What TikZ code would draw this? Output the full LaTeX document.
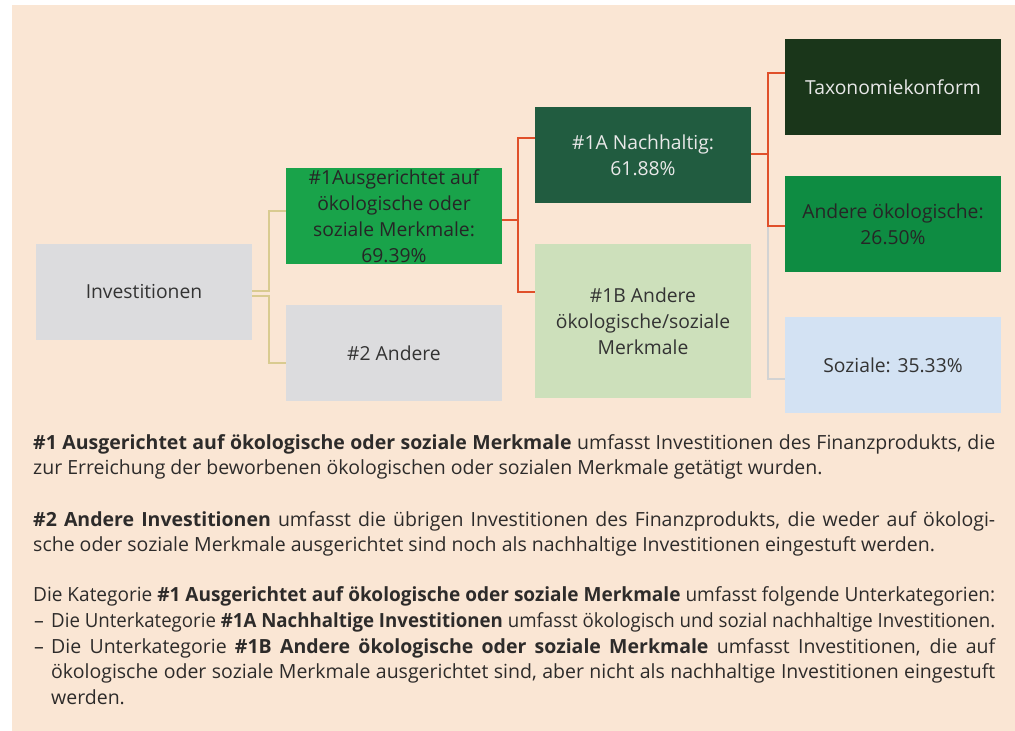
\documentclass[tikz,border=0pt]{standalone}
\usepackage{fontspec}
\usepackage{graphicx}
\setmainfont{Open Sans}
\newfontfamily\bodyfam{Open Sans}
\definecolor{bgc}{HTML}{FAE6D4}
\definecolor{grayc}{HTML}{DCDCDE}
\definecolor{greenA}{HTML}{19A34A}
\definecolor{darkA}{HTML}{215C40}
\definecolor{lightB}{HTML}{CDE0BB}
\definecolor{taxoc}{HTML}{1A361A}
\definecolor{anderec}{HTML}{0E8C42}
\definecolor{sozc}{HTML}{D3E2F3}
\definecolor{tanc}{HTML}{D9CB90}
\definecolor{redc}{HTML}{E0502A}
\definecolor{linegray}{HTML}{D3D3D3}
\definecolor{txtc}{HTML}{2D2B2A}
\definecolor{boxtxt}{HTML}{333333}
\definecolor{lighttxt}{HTML}{E8E8E8}
\newcommand\boxtext{\fontsize{19.3}{26}\selectfont}
\newcommand\bodytext{\bodyfam\fontsize{19.5}{25}\selectfont}
\newsavebox\linebox
\newcommand\fitline[2]{\sbox\linebox{#2}\ifdim\wd\linebox>#1\relax\resizebox{#1}{\ht\linebox}{\usebox\linebox}\else\makebox[#1][s]{#2}\fi}
\tikzset{
  box/.style={rectangle, minimum width=216pt, minimum height=96pt, inner sep=0pt, align=center, font=\boxtext, text=boxtxt},
  tanline/.style={draw=tanc, line width=1.5pt},
  redline/.style={draw=redc, line width=1.5pt},
  grayline/.style={draw=linegray, line width=1.5pt},
  bodyline/.style={anchor=base west, inner sep=0pt, font=\bodytext, text=txtc}
}
\begin{document}
\begin{tikzpicture}[x=1pt,y=-1pt]
\path[use as bounding box] (0,0) rectangle (1015,731);
\fill[bgc] (12,5) rectangle (1015,731);

\node[box, fill=grayc] (inv) at (144,292) {Investitionen};
\node[box, fill=greenA, text=black!85] (one) at (394,216) {\#1Ausgerichtet auf\\ökologische oder\\soziale Merkmale:\\69.39\%};
\node[box, fill=grayc] (two) at (394,353) {\#2 Andere};
\node[box, fill=darkA, text=lighttxt] (oneA) at (643,155) {\#1A Nachhaltig:\\61.88\%};
\node[box, fill=lightB, minimum height=154pt] (oneB) at (643,321) {\#1B Andere\\ökologische/soziale\\Merkmale};
\node[box, fill=taxoc, text=lighttxt] (taxo) at (893,87) {Taxonomiekonform};
\node[box, fill=anderec, text=black!85] (andere) at (893,224) {Andere ökologische:\\26.50\%};
\node[box, fill=sozc] (soz) at (893,365) {Soziale: 35.33\%};

\draw[tanline] ([yshift=1pt]inv.east) -- ++(17,0) |- ([yshift=5pt]one.west);
\draw[tanline] ([yshift=-4pt]inv.east) -- ++(17,0) |- ([yshift=-10pt]two.west);
\draw[redline] ([yshift=-4pt]one.east) -- ++(16,0) |- ([yshift=17pt]oneA.west);
\draw[redline] ([yshift=-4pt]one.east) -- ++(16,0) |- ([yshift=29pt]oneB.west);
\draw[grayline] ([yshift=1pt]oneA.east) -- ++(17,0) |- ([yshift=-14pt]soz.west);
\draw[redline] ([yshift=1pt]oneA.east) -- ++(17,0) |- ([yshift=14pt]taxo.west);
\draw[redline] ([yshift=1pt]oneA.east) -- ++(17,0) |- ([yshift=-2pt]andere.west);

\node[bodyline] (l1) at (33,449) {\fitline{962pt}{\textbf{\#1 Ausgerichtet auf ökologische oder soziale Merkmale} umfasst Investitionen des Finanzprodukts, die}};
\node[bodyline] (l2) at (33,474) {zur Erreichung der beworbenen ökologischen oder sozialen Merkmale getätigt wurden.};
\node[bodyline] (l3) at (33,526) {\fitline{962pt}{\textbf{\#2 Andere Investitionen} umfasst die übrigen Investitionen des Finanzprodukts, die weder auf ökologi-}};
\node[bodyline] (l4) at (33,551) {sche oder soziale Merkmale ausgerichtet sind noch als nachhaltige Investitionen eingestuft werden.};
\node[bodyline] (l5) at (33,601) {\fitline{962pt}{Die Kategorie \textbf{\#1 Ausgerichtet auf ökologische oder soziale Merkmale} umfasst folgende Unterkategorien:}};
\node[bodyline] (d6) at (34,627) {–};
\node[bodyline] (l6) at (51,627) {\fitline{944pt}{Die Unterkategorie \textbf{\#1A Nachhaltige Investitionen} umfasst ökologisch und sozial nachhaltige Investitionen.}};
\node[bodyline] (d7) at (34,653) {–};
\node[bodyline] (l7) at (51,653) {\fitline{944pt}{Die Unterkategorie \textbf{\#1B Andere ökologische oder soziale Merkmale} umfasst Investitionen, die auf}};
\node[bodyline] (l8) at (51,678) {\fitline{944pt}{ökologische oder soziale Merkmale ausgerichtet sind, aber nicht als nachhaltige Investitionen eingestuft}};
\node[bodyline] (l9) at (51,704) {werden.};
\end{tikzpicture}
\end{document}
